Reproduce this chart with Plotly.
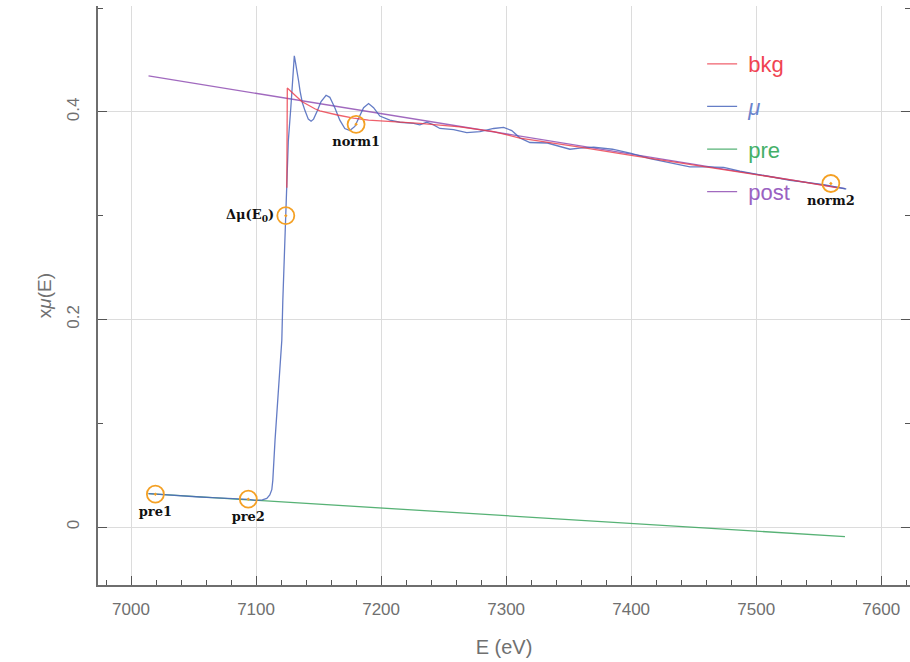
import plotly.graph_objects as go

# ---------------- data ----------------
mu_E = [7014, 7025, 7035, 7045, 7055, 7065, 7075, 7085, 7094, 7100, 7105, 7108.6, 7111,
        7112.6, 7113.4, 7115.2, 7117.8, 7120.6, 7121.4, 7122.6, 7123.8, 7124.6, 7125.8,
        7127.8, 7129.0, 7130.6, 7131.5, 7132.6, 7134, 7135.2, 7137, 7139.2, 7141.8, 7144,
        7146, 7149, 7152, 7156, 7159, 7163, 7167, 7171, 7175, 7179, 7183, 7186, 7190, 7194,
        7199, 7207, 7215, 7226, 7231, 7236.5, 7242, 7247, 7258, 7268.5, 7279, 7290, 7298,
        7304.5, 7311, 7319, 7333, 7343, 7351, 7359, 7370, 7385, 7400, 7415, 7430, 7447,
        7460, 7474, 7487, 7500, 7515, 7527, 7540, 7554, 7572]
mu_val = [0.0322, 0.0312, 0.0302, 0.0296, 0.0290, 0.0284, 0.0279, 0.0272, 0.0266, 0.0258,
          0.0262, 0.0276, 0.031, 0.036, 0.045, 0.084, 0.132, 0.180, 0.218, 0.260, 0.300,
          0.324, 0.372, 0.404, 0.430, 0.454, 0.448, 0.441, 0.430, 0.420, 0.409, 0.401, 0.393,
          0.391, 0.393, 0.401, 0.410, 0.416, 0.414, 0.404, 0.392, 0.384, 0.382, 0.386, 0.396,
          0.404, 0.408, 0.404, 0.396, 0.392, 0.390, 0.389, 0.3875, 0.390, 0.3875, 0.384,
          0.383, 0.380, 0.381, 0.384, 0.385, 0.382, 0.375, 0.3705, 0.370, 0.367, 0.364,
          0.365, 0.366, 0.364, 0.360, 0.355, 0.351, 0.347, 0.347, 0.3465, 0.343, 0.340,
          0.337, 0.334, 0.332, 0.330, 0.3257]

bkg_E = [7124.6, 7125.0, 7128.6, 7136.6, 7147, 7151, 7165, 7178, 7190, 7205, 7231, 7263,
         7290, 7311, 7335, 7359, 7400, 7450, 7500, 7530, 7564]
bkg_val = [0.327, 0.423, 0.419, 0.410, 0.403, 0.401, 0.397, 0.394, 0.392, 0.391, 0.389,
           0.3856, 0.381, 0.3747, 0.370, 0.366, 0.358, 0.349, 0.340, 0.334, 0.327]

pre_E = [7014, 7571]
pre_val = [0.0322, -0.0092]

post_E = [7014, 7571]
post_val = [0.4346, 0.3260]

pt_labels = ["pre1", "pre2", "Δμ(E<sub>0</sub>)", "norm1", "norm2"]
pt_E = [7019.5, 7093.8, 7123.8, 7180.0, 7559.7]
pt_val = [0.0317, 0.0269, 0.300, 0.388, 0.331]
pt_pos = ["bottom center", "bottom center", "middle left", "bottom center", "bottom center"]

x_range = [6973.6, 7623]
y_range = [-0.0558, 0.502]

# ---------------- colours ----------------
C_BKG = "#ec3a48"
C_MU = "#4a66bc"
C_PRE = "#3aa55e"
C_POST = "#9150b4"
C_PT = "#f4a024"

fig = go.Figure()

def leg(name, col):
    return f"<span style='color:{col}'>\u00a0{name}</span>"

fig.add_trace(go.Scatter(x=post_E, y=post_val, mode="lines", name=leg("post", "#9a62c2"),
                         legendgroup="d", legendrank=4,
                         line=dict(color=C_POST, width=1.3), opacity=0.85))
fig.add_trace(go.Scatter(x=pre_E, y=pre_val, mode="lines", name=leg("pre", "#44b068"),
                         legendgroup="c", legendrank=3,
                         line=dict(color=C_PRE, width=1.3), opacity=0.85))
fig.add_trace(go.Scatter(x=mu_E, y=mu_val, mode="lines", name=leg("<i>μ</i>", "#6a84cc"),
                         legendgroup="b", legendrank=2,
                         line=dict(color=C_MU, width=1.3), opacity=0.85))
fig.add_trace(go.Scatter(x=bkg_E, y=bkg_val, mode="lines", name=leg("bkg", "#f04452"),
                         legendgroup="a", legendrank=1,
                         line=dict(color=C_BKG, width=1.3), opacity=0.8))

fig.add_trace(go.Scatter(
    x=pt_E, y=pt_val, mode="markers+text", text=pt_labels, textposition=pt_pos,
    showlegend=False, yaxis="y2",
    marker=dict(symbol="circle-open-dot", size=17, color=C_PT, line=dict(color=C_PT, width=1.8)),
    textfont=dict(family="DejaVu Serif", size=13, color="#111111", weight="bold"),
))

axis_common = dict(
    showgrid=True, gridcolor="#dcdcdc", gridwidth=1, zeroline=False,
    showline=True, linecolor="#6e6e6e", linewidth=1.5, automargin=False,
    ticks="inside", ticklen=9, tickcolor="#555555", tickwidth=1,
    tickfont=dict(family="Liberation Sans", size=17, color="#707070"),
)

fig.update_xaxes(range=x_range, dtick=100, tick0=7000,
                 minor=dict(dtick=20, ticks="inside", ticklen=5, tickcolor="#555555", showgrid=False),
                 title=dict(text="E (eV)", font=dict(family="Liberation Sans", size=20, color="#707070"),
                            standoff=22),
                 ticklabelstandoff=8, **axis_common)

fig.update_layout(
    yaxis=dict(range=y_range, dtick=0.2, tick0=0, tickangle=-90,
               minor=dict(dtick=0.1, ticks="inside", ticklen=5, tickcolor="#555555", showgrid=False),
               title=dict(text="x<i>μ</i>(E)", font=dict(family="Liberation Sans", size=19, color="#707070"),
                          standoff=8),
               ticklabelstandoff=10, **axis_common),
    yaxis2=dict(range=y_range, matches="y", overlaying="y", side="right", dtick=0.2, tick0=0,
                showgrid=False, zeroline=False, showline=False, showticklabels=False,
                ticks="inside", ticklen=9, tickcolor="#555555", tickwidth=1,
                minor=dict(dtick=0.1, ticks="inside", ticklen=5, tickcolor="#555555", showgrid=False)),
    width=910, height=662,
    margin=dict(l=98, r=0, t=6, b=77),
    paper_bgcolor="white", plot_bgcolor="white",
    legend=dict(x=0.744, y=0.936, xanchor="left", yanchor="top",
                traceorder="grouped", tracegroupgap=11,
                bgcolor="rgba(0,0,0,0)", borderwidth=0, itemwidth=30,
                font=dict(family="Liberation Sans", size=22)),
    showlegend=True,
)

fig.write_html("out.html", config={"displayModeBar": False},
               post_script="document.body.style.margin='0px';")
